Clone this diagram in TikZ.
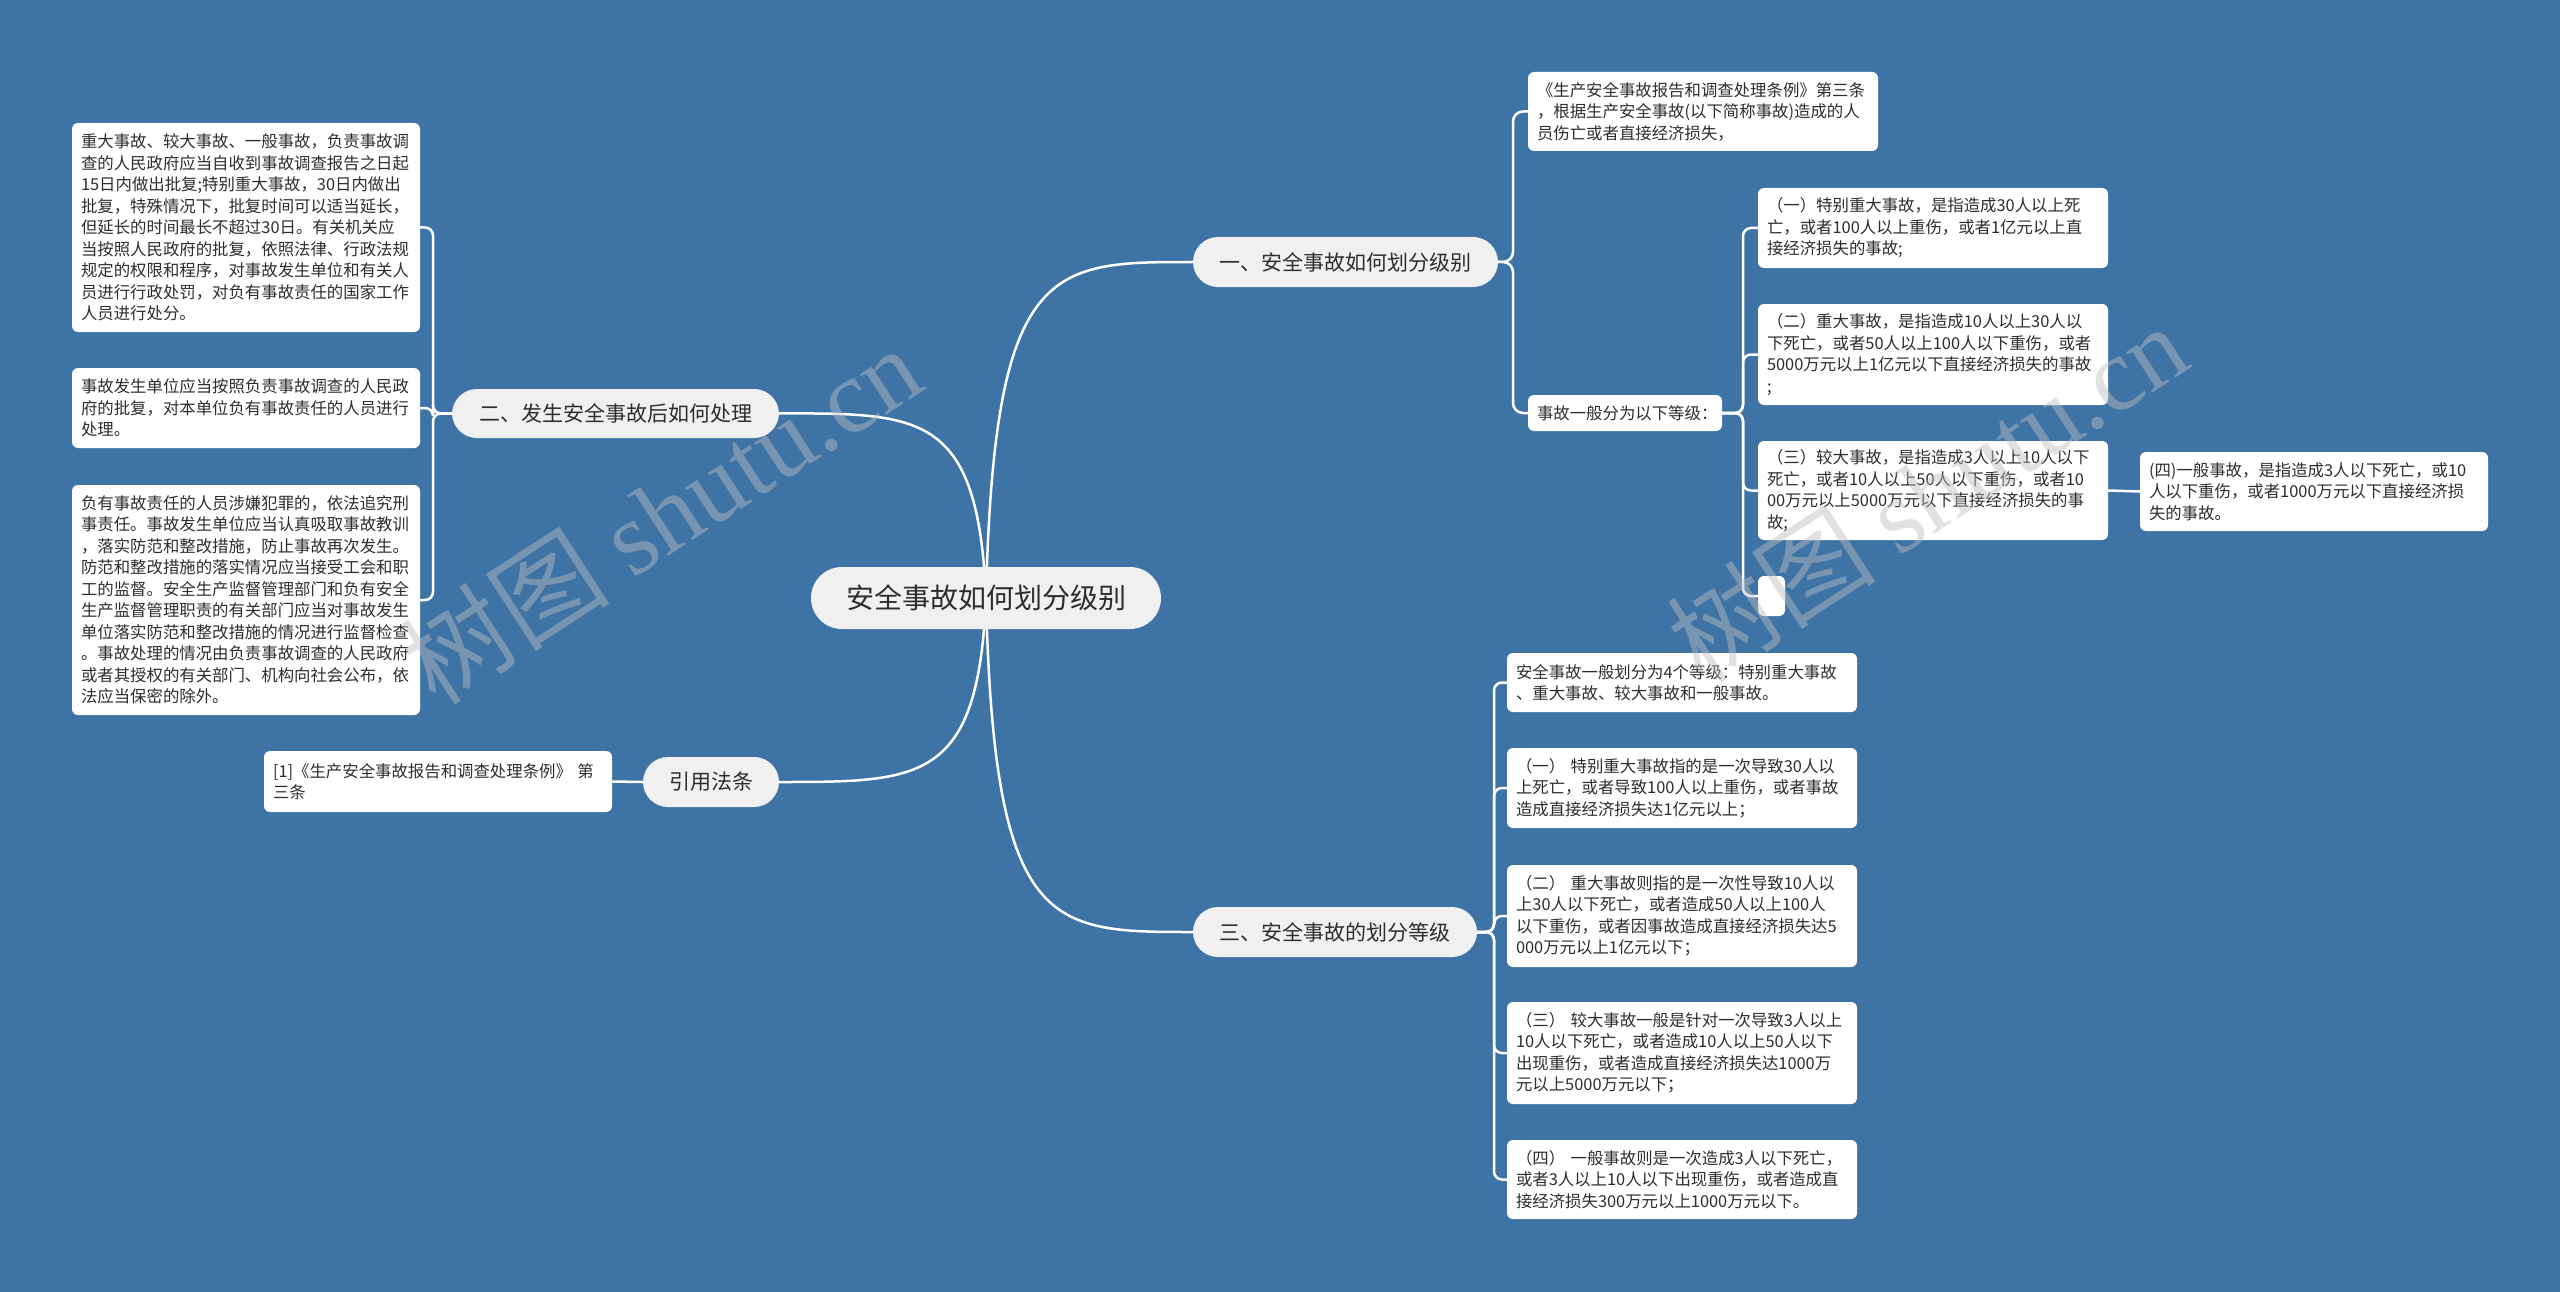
\documentclass[tikz,border=0pt]{standalone}
\usepackage{fontspec}
\setmainfont{Noto Sans CJK SC}
\newfontfamily\wmlatin{Liberation Serif}
\pgfdeclarelayer{back}
\pgfdeclarelayer{lines}
\pgfsetlayers{back,lines,main}
\definecolor{bgblue}{RGB}{62,115,166}
\definecolor{branchfill}{RGB}{240,240,240}
\definecolor{txt}{RGB}{45,45,45}
\definecolor{wmgray}{RGB}{190,190,190}
\tikzset{
  conn/.style={draw=white, line width=2.5pt},
  leaf/.style={fill=white, rounded corners=6pt, inner xsep=9pt, inner ysep=1pt, align=left, text=txt, font=\fontsize{16.4}{21.5}\selectfont},
  branch/.style={fill=branchfill, rounded corners=25pt, text=txt, font=\fontsize{21}{25}\selectfont, inner sep=0pt},
  rootnode/.style={fill=branchfill, rounded corners=31pt, text=txt, font=\fontsize{28}{32}\selectfont, inner sep=0pt},
  watermark/.style={rotate=33, opacity=0.45, text=wmgray, font=\fontsize{105}{105}\selectfont},
}
\newcommand\leafbox[6]{%
  \pgfmathsetlengthmacro\lbw{#4-#2}%
  \pgfmathsetlengthmacro\lbh{#5-#3}%
  \pgfmathsetlengthmacro\lbtw{#4-#2-18}%
  \node[leaf, minimum width=\lbw, minimum height=\lbh, text width=\lbtw] (#1) at ({(#2+#4)/2},{(#3+#5)/2}) {#6};}
\newcommand\pillbox[7]{%
  \pgfmathsetlengthmacro\lbw{#5-#3}%
  \pgfmathsetlengthmacro\lbh{#6-#4}%
  \node[#1, minimum width=\lbw, minimum height=\lbh] (#2) at ({(#3+#5)/2},{(#4+#6)/2}) {#7};}
\begin{document}
\begin{tikzpicture}[x=1pt, y=-1pt]
\begin{pgfonlayer}{back}
\fill[bgblue] (0,0) rectangle (2560,1292);
\end{pgfonlayer}
\path[use as bounding box] (0,0) rectangle (2560,1292);

% root and branches
\pillbox{rootnode}{c}{811}{567}{1161}{629}{安全事故如何划分级别}
\pillbox{branch}{b1}{1193}{237}{1498}{287}{一、安全事故如何划分级别}
\pillbox{branch}{b2}{452}{389}{779}{438}{二、发生安全事故后如何处理}
\pillbox{branch}{b3}{1193}{907}{1477}{957}{三、安全事故的划分等级}
\pillbox{branch}{b4}{643}{757}{779}{807}{引用法条}

% branch 2 leaves
\leafbox{l1}{72}{123}{420}{332}{重大事故、较大事故、一般事故，负责事故调\\查的人民政府应当自收到事故调查报告之日起\\15日内做出批复;特别重大事故，30日内做出\\批复，特殊情况下，批复时间可以适当延长，\\但延长的时间最长不超过30日。有关机关应\\当按照人民政府的批复，依照法律、行政法规\\规定的权限和程序，对事故发生单位和有关人\\员进行行政处罚，对负有事故责任的国家工作\\人员进行处分。}
\leafbox{l2}{72}{368}{420}{448}{事故发生单位应当按照负责事故调查的人民政\\府的批复，对本单位负有事故责任的人员进行\\处理。}
\leafbox{l3}{72}{485}{420}{715}{负有事故责任的人员涉嫌犯罪的，依法追究刑\\事责任。事故发生单位应当认真吸取事故教训\\，落实防范和整改措施，防止事故再次发生。\\防范和整改措施的落实情况应当接受工会和职\\工的监督。安全生产监督管理部门和负有安全\\生产监督管理职责的有关部门应当对事故发生\\单位落实防范和整改措施的情况进行监督检查\\。事故处理的情况由负责事故调查的人民政府\\或者其授权的有关部门、机构向社会公布，依\\法应当保密的除外。}

% branch 4 leaf
\leafbox{rf}{264}{751}{612}{812}{[1]《生产安全事故报告和调查处理条例》 第\\三条}

% branch 1 leaves
\leafbox{ra}{1528}{72}{1878}{151}{《生产安全事故报告和调查处理条例》第三条\\，根据生产安全事故(以下简称事故)造成的人\\员伤亡或者直接经济损失，}
\leafbox{gen}{1528}{395}{1722}{431}{事故一般分为以下等级：}
\leafbox{u1}{1758}{188}{2108}{268}{（一）特别重大事故，是指造成30人以上死\\亡，或者100人以上重伤，或者1亿元以上直\\接经济损失的事故;}
\leafbox{u2}{1758}{304}{2108}{405}{（二）重大事故，是指造成10人以上30人以\\下死亡，或者50人以上100人以下重伤，或者\\5000万元以上1亿元以下直接经济损失的事故\\;}
\leafbox{u3}{1758}{441}{2108}{540}{（三）较大事故，是指造成3人以上10人以下\\死亡，或者10人以上50人以下重伤，或者10\\00万元以上5000万元以下直接经济损失的事\\故;}
\leafbox{u4}{2140}{452}{2488}{531}{(四)一般事故，是指造成3人以下死亡，或10\\人以下重伤，或者1000万元以下直接经济损\\失的事故。}
\leafbox{ue}{1758}{576}{1785}{616}{}

% branch 3 leaves
\leafbox{d0}{1507}{653}{1857}{712}{安全事故一般划分为4个等级：特别重大事故\\、重大事故、较大事故和一般事故。}
\leafbox{d1}{1507}{748}{1857}{828}{（一） 特别重大事故指的是一次导致30人以\\上死亡，或者导致100人以上重伤，或者事故\\造成直接经济损失达1亿元以上；}
\leafbox{d2}{1507}{865}{1857}{967}{（二） 重大事故则指的是一次性导致10人以\\上30人以下死亡，或者造成50人以上100人\\以下重伤，或者因事故造成直接经济损失达5\\000万元以上1亿元以下；}
\leafbox{d3}{1507}{1002}{1857}{1104}{（三） 较大事故一般是针对一次导致3人以上\\10人以下死亡，或者造成10人以上50人以下\\出现重伤，或者造成直接经济损失达1000万\\元以上5000万元以下；}
\leafbox{d4}{1507}{1140}{1857}{1219}{（四） 一般事故则是一次造成3人以下死亡，\\或者3人以上10人以下出现重伤，或者造成直\\接经济损失300万元以上1000万元以下。}

\begin{pgfonlayer}{lines}
% root to branches
\draw[conn] (c.center) .. controls (994,262) and (1050,262) .. (b1.west);
\draw[conn] (c.center) .. controls (994,932) and (1050,932) .. (b3.west);
\draw[conn] (c.center) .. controls (978,413) and (922,413) .. (b2.east);
\draw[conn] (c.center) .. controls (978,782) and (922,782) .. (b4.east);
% branch 1
\draw[conn, rounded corners=10pt] (b1.east) -- (1513,262) |- (ra.west);
\draw[conn, rounded corners=10pt] (b1.east) -- (1513,262) |- (gen.west);
\draw[conn, rounded corners=8pt] (gen.east) -- (1743,413) |- (u1.west);
\draw[conn, rounded corners=8pt] (gen.east) -- (1743,413) |- (u2.west);
\draw[conn, rounded corners=8pt] (gen.east) -- (1743,413) |- (u3.west);
\draw[conn, rounded corners=8pt] (gen.east) -- (1743,413) |- (ue.west);
\draw[conn] (u3.east) -- (u4.west);
% branch 2
\draw[conn, rounded corners=8pt] (b2.west) -- (433,413.5) |- (l1.east);
\draw[conn, rounded corners=8pt] (b2.west) -- (433,413.5) |- (l2.east);
\draw[conn, rounded corners=8pt] (b2.west) -- (433,413.5) |- (l3.east);
% branch 3
\draw[conn, rounded corners=8pt] (b3.east) -- (1494,932) |- (d0.west);
\draw[conn, rounded corners=8pt] (b3.east) -- (1494,932) |- (d1.west);
\draw[conn, rounded corners=8pt] (b3.east) -- (1494,932) |- (d2.west);
\draw[conn, rounded corners=8pt] (b3.east) -- (1494,932) |- (d3.west);
\draw[conn, rounded corners=8pt] (b3.east) -- (1494,932) |- (d4.west);
% branch 4
\draw[conn] (b4.west) -- (rf.east);
\end{pgfonlayer}

% watermarks
\node[watermark] (wm1) at (661,514) {树图 {\wmlatin shutu.cn}};
\node[watermark] (wm2) at (1927,492) {树图 {\wmlatin shutu.cn}};
\end{tikzpicture}
\end{document}
